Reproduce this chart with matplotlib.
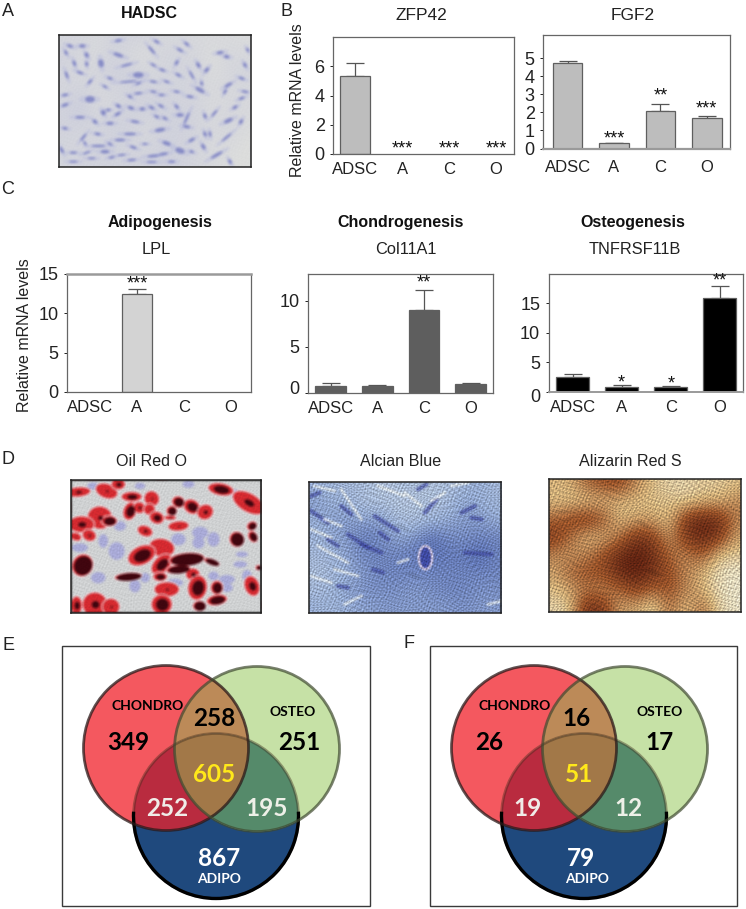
import numpy as np
import matplotlib
matplotlib.use('Agg')
import matplotlib.pyplot as plt
from matplotlib.patches import Circle, Ellipse, Arc, Polygon
from matplotlib.transforms import ScaledTranslation

W, H = 746, 909
plt.rcParams['font.family'] = ['Liberation Sans', 'DejaVu Sans']

groups = ['ADSC', 'A', 'C', 'O']

# bar values
zfp42 = [5.3, 0, 0, 0]
zfp42_err = [0.95, 0, 0, 0]
fgf2 = [4.75, 0.28, 2.07, 1.7]
fgf2_err = [0.12, 0.02, 0.38, 0.12]
lpl = [0, 12.5, 0, 0]
lpl_err = [0, 0.55, 0, 0]
col11a1 = [0.76, 0.76, 9.0, 0.95]
col11a1_err = [0.36, 0.07, 2.2, 0.08]
tnfrsf = [2.5, 0.85, 0.9, 15.8]
tnfrsf_err = [0.5, 0.28, 0.1, 2.0]

# venn counts
venn_e = ['349', '258', '251', '605', '252', '195', '867']
venn_f = ['26', '16', '17', '51', '19', '12', '79']

fig = plt.figure(figsize=(W / 100, H / 100), dpi=100)


def px_axes(x0, y0, x1, y1):
    return fig.add_axes([x0 / W, 1 - y1 / H, (x1 - x0) / W, (y1 - y0) / H])


def bar_panel(rect, xlim, ymax, vals, errs, color, yticks, stars, star_y, pad, bar_w=0.64):
    ax = px_axes(*rect)
    x = np.arange(4)
    for xi, v, e in zip(x, vals, errs):
        if v > 0:
            ax.bar(xi, v, bar_w, color=color, edgecolor='#5f5f5f', linewidth=0.9, zorder=2)
        if e > 0:
            ax.errorbar(xi, v, yerr=[[0], [e]], color='#555555', capsize=6.5, elinewidth=0.9,
                        capthick=0.9, zorder=1)
    for xi, s, y in zip(x, stars, star_y):
        if s:
            ax.text(xi, y, s, ha='center', va='center', fontsize=13, color='#111111')
    ax.set_xlim(*xlim)
    ax.set_ylim(0, ymax)
    ax.set_xticks(x, groups)
    ax.set_yticks(yticks)
    ax.tick_params(axis='x', length=0, pad=pad, labelsize=12, colors='#222222')
    ax.tick_params(axis='y', length=2, pad=4, labelsize=13, colors='#222222', width=0.7)
    for s in ax.spines.values():
        s.set_color('#666666')
        s.set_linewidth(0.9)
    ax.patch.set_alpha(0)
    return ax


def nudge_zero(ax, dy):
    lab = ax.get_yticklabels()[0]
    lab.set_transform(lab.get_transform() + ScaledTranslation(0, dy / 100, fig.dpi_scale_trans))


ax = bar_panel((333, 37, 514, 154), (-0.47, 3.38), 8.0, zfp42, zfp42_err, '#bdbdbd',
               [0, 2, 4, 6], ['', '***', '***', '***'], [0, 0.35, 0.35, 0.35], 6)
ax = bar_panel((543, 35, 730, 148.5), (-0.53, 3.5), 6.3, fgf2, fgf2_err, '#bdbdbd',
               [0, 1, 2, 3, 4, 5], ['', '***', '**', '***'], [0, 0.55, 2.9, 2.2], 8)
ax.spines['bottom'].set_color('#9a9a9a')
ax.spines['bottom'].set_linewidth(1.6)
ax = bar_panel((67, 274, 251, 392), (-0.49, 3.43), 15, lpl, lpl_err, '#d3d3d3',
               [0, 5, 10, 15], ['', '***', '', ''], [0, 13.7, 0, 0], 6)
ax.spines['top'].set_color('#9a9a9a')
ax.spines['top'].set_linewidth(1.8)
ax = bar_panel((308, 274, 493, 393), (-0.49, 3.48), 12.9, col11a1, col11a1_err, '#5e5e5e',
               [0, 5, 10], ['', '', '**', ''], [0, 0, 11.9, 0], 6, bar_w=0.66)
nudge_zero(ax, 6)
ax = bar_panel((548.5, 274, 743, 392), (-0.49, 3.47), 19.9, tnfrsf, tnfrsf_err, '#000000',
               [0, 5, 10, 15], ['', '*', '*', '**'], [0, 1.5, 1.4, 18.8], 6, bar_w=0.67)
ax.spines['bottom'].set_color('#9a9a9a')
ax.spines['bottom'].set_linewidth(1.4)
nudge_zero(ax, -4)


# photos are painted on a scratch figure, softened, then shown in the real axes
def photo(rect, crop_x, crop_y):
    tmp = plt.figure(figsize=((rect[2] - rect[0]) / 100, (rect[3] - rect[1]) / 100), dpi=200)
    ax = tmp.add_axes([0, 0, 1, 1])
    ax.set_xlim((rect[0] - crop_x) * 3, (rect[2] - crop_x) * 3)
    ax.set_ylim((rect[3] - crop_y) * 3, (rect[1] - crop_y) * 3)
    ax.axis('off')
    ax.rect = rect
    return ax


def speckle(shape):
    yy, xx = np.mgrid[0:shape[0], 0:shape[1]]
    warp = 4 * np.sin(.037 * xx + .061 * yy) + 3 * np.sin(-.053 * xx + .029 * yy) + 2.5 * np.sin(.091 * xx - .083 * yy)
    warp2 = 4 * np.sin(.043 * xx - .071 * yy + 1) + 3 * np.sin(.067 * xx + .047 * yy + 2)
    waves = [(.97, .31, .4, warp), (-.47, .88, 1.3, warp2), (.27, -1.07, 2.2, warp + warp2), (1.21, .67, 3.1, warp2 - warp),
             (-.83, -.51, 4.7, warp), (.39, 1.29, 5.3, warp2)]
    g = sum(np.sin(a * xx + b * yy + p + w) for a, b, p, w in waves)
    return g / 3.0


def finish(ax, k, strength):
    tmp = ax.figure
    tmp.canvas.draw()
    a = np.asarray(tmp.canvas.buffer_rgba())[:, :, :3].astype(float) / 255
    blur = sum(np.roll(np.roll(a, i, 0), j, 1) for i in range(-k, k + 1) for j in range(-k, k + 1)) / (2 * k + 1) ** 2
    if strength:
        blur = blur * (1 + strength * speckle(a.shape[:2]))[:, :, None]
    blur = np.clip(blur, 0, 1)
    plt.close(tmp)
    real = px_axes(*ax.rect)
    real.imshow(blur, aspect='auto', interpolation='antialiased')
    real.set_xticks([])
    real.set_yticks([])
    for s in real.spines.values():
        s.set_color('#222222')
        s.set_linewidth(1.1)


def shade(ax, grid, colors):
    x0, x1 = ax.get_xlim()
    y1, y0 = ax.get_ylim()
    cm = matplotlib.colors.LinearSegmentedColormap.from_list('s', colors)
    ax.imshow(np.array(grid), extent=(0, 600, 420, 0), cmap=cm, vmin=0, vmax=1,
              interpolation='bicubic', aspect='auto', zorder=0)
    ax.set_xlim(x0, x1)
    ax.set_ylim(y1, y0)


# A: cells as (x, y, length, width, angle) in crop units
hadsc_cells = [
    (45, 48, 16, 8, 20), (82, 48, 16, 9, 0), (33, 68, 14, 7, 60), (95, 75, 14, 10, 60), (58, 100, 16, 8, 70),
    (95, 102, 12, 8, 80), (35, 135, 20, 7, 70), (75, 128, 18, 7, 20), (138, 100, 20, 14, 80), (190, 75, 26, 9, 20),
    (190, 32, 18, 7, -10), (215, 105, 30, 6, -15), (250, 135, 26, 14, 0), (220, 155, 44, 5, -5), (105, 155, 16, 7, -50),
    (165, 145, 14, 7, 20), (150, 170, 14, 6, 30), (250, 160, 16, 6, -20), (295, 155, 18, 6, 10), (335, 155, 16, 6, 20),
    (370, 135, 16, 7, 30), (295, 105, 16, 6, 30), (322, 120, 16, 7, 20), (365, 98, 14, 8, -60), (375, 60, 18, 7, 30),
    (395, 42, 16, 7, 40), (290, 60, 26, 7, 50), (305, 35, 16, 7, 30), (430, 105, 16, 9, 60), (410, 135, 24, 6, 60),
    (455, 120, 16, 9, -50), (495, 68, 18, 8, -10), (515, 80, 14, 9, 10), (520, 165, 22, 8, -30), (510, 185, 14, 7, -60),
    (560, 145, 16, 7, 20), (570, 105, 14, 8, 60), (578, 60, 12, 7, 60), (570, 185, 18, 6, 10), (560, 205, 16, 7, -20),
    (435, 180, 26, 10, 30), (440, 160, 12, 7, 80), (405, 200, 18, 7, 10), (365, 185, 16, 6, 10), (320, 195, 16, 6, 0),
    (295, 185, 16, 6, 10), (250, 190, 20, 6, -5), (225, 200, 14, 7, 30), (105, 208, 24, 16, 0), (30, 195, 16, 7, -10),
    (30, 225, 18, 8, -20), (190, 228, 14, 9, 30), (228, 234, 16, 9, 20), (262, 237, 14, 9, 0), (290, 233, 16, 8, 30),
    (318, 228, 16, 7, 30), (365, 230, 14, 8, 50), (145, 248, 14, 12, 60), (188, 252, 18, 8, -30), (160, 240, 12, 7, 0),
    (375, 255, 18, 9, 0), (305, 260, 14, 7, 30), (330, 265, 14, 7, 30), (395, 265, 34, 6, -65), (450, 258, 14, 8, 70),
    (478, 250, 22, 6, -50), (540, 232, 14, 8, -30), (520, 272, 24, 10, -25), (558, 275, 14, 9, -60), (75, 262, 24, 7, 0),
    (120, 275, 14, 9, 40), (165, 280, 18, 8, 0), (240, 275, 22, 7, 10), (315, 300, 26, 10, -10), (395, 290, 18, 8, 10),
    (30, 295, 14, 7, 10), (85, 322, 24, 6, -50), (128, 312, 16, 7, 10), (225, 312, 30, 7, 0), (195, 330, 26, 7, 0),
    (130, 348, 36, 6, 0), (90, 340, 12, 6, 60), (165, 342, 14, 6, 30), (235, 352, 18, 7, 20), (335, 340, 22, 10, 20),
    (410, 330, 18, 8, -30), (450, 312, 14, 8, 70), (465, 312, 14, 7, 80), (445, 350, 16, 9, 60), (515, 322, 32, 6, -40),
    (20, 360, 18, 8, 60), (55, 368, 18, 6, 0), (95, 368, 20, 5, -20), (150, 365, 22, 9, 0), (200, 375, 20, 5, -5),
    (270, 342, 14, 5, 0), (375, 362, 24, 14, 20), (325, 372, 24, 7, -10), (410, 365, 12, 7, 20), (295, 378, 30, 7, -5),
    (230, 390, 22, 6, -5), (110, 385, 20, 5, 0), (170, 382, 16, 6, -10), (55, 395, 22, 5, 0), (290, 396, 26, 5, 0),
    (485, 375, 34, 8, -30), (525, 395, 14, 8, 60), (350, 395, 18, 6, 0),
]
hadsc_bg = [[.35, .45, .25, .45, .5, .45, .3, .35, .3, .25, .25, .2],
            [.55, .35, .25, .6, .25, .15, .5, .4, .4, .15, .4, .3],
            [.45, .3, .45, .55, .6, .4, .35, .5, .45, .15, .4, .45],
            [.35, .55, .3, .4, .5, .5, .5, .45, .4, .3, .35, .3],
            [.5, .8, .3, .4, .5, .55, .55, .5, .5, .2, .35, .3],
            [.5, .5, .45, .6, .55, .3, .5, .55, .45, .3, .45, .2],
            [.45, .4, .4, .5, .45, .4, .55, .5, .45, .25, .3, .1],
            [.45, .5, .5, .5, .5, .5, .55, .55, .4, .3, .15, .1]]
ax = photo((59, 35, 251, 167), 55, 30)
shade(ax, hadsc_bg, ['#e0e1dd', '#c3c5dc'])
for cx, cy, a, b, t in hadsc_cells:
    ax.add_patch(Ellipse((cx, cy), a * 2.4 + 8, b + 8, angle=t, fc='#bcbfdc', ec='none', alpha=0.5, zorder=1))
    ax.add_patch(Ellipse((cx, cy), a * 1.2, b * 1.2, angle=t, fc='#7f84c4', ec='none', alpha=0.85, zorder=2))
finish(ax, 3, 0.01)

# D, oil red: cells as (x, y, w, h, angle, dark centre size)
oil_cells = [
    (35, 48, 60, 24, -5, .2), (120, 45, 55, 35, 20, .1), (155, 25, 34, 26, 0, .3), (195, 62, 50, 24, 0, .4), (255, 68, 36, 38, -30, .1),
    (462, 40, 62, 30, 10, .5), (545, 80, 45, 85, -60, .25), (335, 78, 32, 28, 20, .6), (375, 92, 42, 34, 30, .5), (415, 108, 40, 36, -30, .2),
    (190, 105, 32, 45, 20, .5), (218, 95, 30, 28, 20, .2), (248, 100, 28, 28, 30, .1), (270, 125, 36, 30, 20, .4), (315, 105, 26, 26, 0, .6),
    (310, 125, 30, 12, 0, .2), (100, 125, 60, 55, 10, .15), (45, 145, 62, 40, 0, .25), (128, 135, 38, 26, 0, .6), (68, 178, 34, 28, 20, .15),
    (28, 182, 28, 20, 20, .1), (335, 150, 50, 24, -5, .1), (235, 165, 38, 26, 20, .2), (510, 190, 36, 38, -30, .7), (555, 150, 22, 26, 60, .6),
    (558, 182, 22, 30, -30, .6), (285, 215, 62, 44, 10, 0), (225, 238, 45, 70, 65, .5), (48, 268, 50, 55, 30, .7), (285, 265, 38, 60, 45, .45),
    (360, 250, 86, 32, -5, .75), (335, 280, 60, 22, -5, .7), (435, 258, 40, 16, 20, .7), (280, 302, 34, 22, 0, .5), (185, 302, 66, 20, -5, .75),
    (378, 295, 34, 30, 0, .25), (392, 335, 46, 60, 10, .5), (300, 340, 60, 36, 0, .1), (450, 335, 30, 34, 0, .6), (450, 372, 50, 26, -10, .6),
    (555, 330, 36, 50, -20, .35), (85, 385, 60, 58, 0, .25), (133, 392, 42, 40, 0, .1), (30, 388, 28, 44, 0, .35), (285, 385, 50, 48, 0, .5),
    (398, 390, 32, 26, 0, .7), (575, 275, 16, 14, 0, .6),
]
oil_blue = [(95, 305, 36, 28), (205, 330, 28, 32), (235, 305, 24, 24), (335, 190, 36, 30), (440, 190, 30, 36), (150, 225, 40, 44),
            (395, 200, 30, 30), (525, 235, 30, 14), (520, 265, 34, 16), (440, 300, 26, 22), (480, 335, 30, 22), (325, 320, 40, 20),
            (110, 195, 24, 34), (365, 25, 30, 18), (80, 30, 30, 18), (220, 30, 26, 16), (40, 215, 40, 22), (500, 50, 26, 18),
            (400, 170, 40, 30), (160, 150, 30, 24), (480, 310, 40, 22), (540, 300, 24, 30)]
ax = photo((70.5, 480, 261, 613), 66, 476)
ax.set_facecolor('#cfd1d2')
ax.axis('on')
ax.set_xticks([])
ax.set_yticks([])
for cx, cy, a, b in oil_blue:
    ax.add_patch(Ellipse((cx, cy), a * 1.2, b * 1.2, fc='#a3a4d8', ec='none', alpha=0.85, zorder=1))
for cx, cy, a, b, t, d in oil_cells:
    ax.add_patch(Ellipse((cx, cy), a * 1.25, b * 1.25, angle=t, fc='#d42a30', ec='#f0d8dc', linewidth=0.8, zorder=2))
    if d:
        ax.add_patch(Ellipse((cx + 2, cy + 1), a * d * 1.5, b * d * 1.5, angle=t, fc='#40060f', ec='none', zorder=2.5))
finish(ax, 3, 0.05)

# D, alcian blue
alcian = [[.5, .45, .4, .4, .3, .35, .4, .3, .35, .45, .5, .4],
          [.6, .5, .5, .35, .35, .3, .3, .35, .4, .55, .5, .45],
          [.5, .55, .6, .55, .6, .4, .35, .45, .5, .6, .6, .5],
          [.45, .5, .6, .75, .7, .55, .6, .8, .7, .65, .7, .7],
          [.4, .45, .55, .7, .7, .7, .75, .8, .75, .75, .85, .7],
          [.35, .4, .5, .6, .7, .7, .7, .7, .7, .7, .7, .7],
          [.4, .45, .55, .65, .65, .65, .6, .65, .7, .7, .65, .65],
          [.5, .45, .5, .55, .6, .6, .6, .6, .6, .65, .6, .6]]
alcian_dark = [(20, 105, 70, 140), (70, 190, 100, 210), (110, 90, 140, 115), (210, 120, 280, 165), (170, 205, 230, 230),
               (340, 40, 365, 25), (360, 110, 395, 70), (470, 110, 510, 90), (480, 230, 560, 235), (20, 60, 45, 50),
               (130, 175, 190, 215), (225, 170, 250, 190), (205, 280, 235, 290), (500, 125, 530, 130), (100, 330, 130, 335)]
alcian_pale = [(20, 160, 80, 185), (40, 210, 130, 260), (110, 40, 170, 130), (220, 30, 300, 60), (60, 130, 110, 150),
               (380, 75, 420, 50), (120, 385, 170, 360), (20, 300, 80, 320), (90, 280, 160, 300), (550, 385, 590, 375),
               (280, 260, 310, 250), (300, 50, 350, 90), (440, 30, 490, 20), (30, 30, 90, 45)]
ax = photo((308.5, 482, 501, 613), 304, 476)
shade(ax, alcian, ['#d5dee0', '#93a8ce', '#34499b'])
for x0, y0, x1, y1 in alcian_dark:
    ax.plot([x0, x1], [y0, y1], color='#3b4396', lw=3, alpha=0.65, zorder=1, solid_capstyle='round')
for x0, y0, x1, y1 in alcian_pale:
    ax.plot([x0, x1], [y0, y1], color='#e3e8ea', lw=2, alpha=0.75, zorder=1)
ax.add_patch(Ellipse((362, 245), 40, 70, fc='#3f4aa0', ec='#d5c9de', linewidth=1.5, zorder=2))
finish(ax, 2, 0.22)

# D, alizarin red
alizarin = [[.35, .35, .6, .7, .75, .5, .3, .2, .2, .25, .25, .3],
            [.3, .3, .3, .35, .35, .3, .3, .3, .25, .35, .35, .5],
            [.6, .75, .85, .7, .3, .4, .4, .3, .85, .95, .9, .5],
            [.85, .6, .35, .35, .55, .85, .8, .4, .85, .95, .85, .4],
            [.5, .45, .5, .7, .9, 1, .9, .6, .5, .7, .3, .25],
            [.4, .6, .7, .7, .95, 1, .9, .7, .5, .35, .15, .1],
            [.3, .4, .55, .5, .6, .8, .6, .7, .5, .35, .15, .1],
            [.2, .25, .9, .85, .4, .4, .2, .6, .3, .6, .2, .1]]
ax = photo((548.5, 479, 740.5, 612), 544, 476)
shade(ax, alizarin, ['#e9ebdc', '#cfae78', '#98532a', '#5b1f10'])
finish(ax, 1, 0.26)


# panels E and F
regions = {'r': '#f4585f', 'g': '#c6e1a6', 'b': '#1f497d', 'rg': '#bc8a58', 'rb': '#b92b3f', 'gb': '#558a6a', 'rgb': '#a27848'}
top = fig.add_axes([0, 0, 1, 1], zorder=5)
top.set_xlim(0, W)
top.set_ylim(H, 0)
top.axis('off')


def inside(pts, c, r):
    return np.hypot(pts[:, 0] - c[0], pts[:, 1] - c[1]) <= r


def venn(box, cr, cg, cb, labels, pos, name_pos):
    r = 82.5
    top.add_patch(Polygon([(box[0], box[1]), (box[2], box[1]), (box[2], box[3]), (box[0], box[3])],
                          closed=True, fc='white', ec='#3a3a3a', lw=1))
    for c, k in ((cb, 'b'), (cg, 'g'), (cr, 'r')):
        top.add_patch(Circle(c, r, fc=regions[k], ec='none'))
    for c1, c2, k in ((cr, cg, 'rg'), (cr, cb, 'rb'), (cg, cb, 'gb')):
        p = Circle(c1, r, fc=regions[k], ec='none')
        top.add_patch(p)
        p.set_clip_path(Circle(c2, r, transform=top.transData))
    # triple overlap outline: boundary points of each circle lying in the other two
    t = np.linspace(0, 2 * np.pi, 721)
    pts = []
    for a, b, c in ((cr, cg, cb), (cg, cb, cr), (cb, cr, cg)):
        q = np.c_[a[0] + r * np.cos(t), a[1] + r * np.sin(t)]
        pts.append(q[inside(q, b, r + 0.01) & inside(q, c, r + 0.01)])
    pts = np.vstack(pts)
    m = pts.mean(axis=0)
    pts = pts[np.argsort(np.arctan2(pts[:, 1] - m[1], pts[:, 0] - m[0]))]
    top.add_patch(Polygon(pts, closed=True, fc=regions['rgb'], ec='none'))
    # outlines
    top.add_patch(Circle(cb, r, fc='none', ec='#3a2a1a', lw=2, alpha=0.4))
    top.add_patch(Arc(cb, 2 * r, 2 * r, theta1=-3, theta2=183, color='black', lw=2.4))
    top.add_patch(Circle(cr, r, fc='none', ec='#2a1a1a', lw=2, alpha=0.75))
    top.add_patch(Circle(cg, r, fc='none', ec='#3f4a30', lw=2, alpha=0.7))
    fonts = ['Lato', 'DejaVu Sans']
    colors = ['black', 'black', 'black', '#ffe81a', '#f0ece8', '#eef0e8', 'white']
    for s, (x, y), col in zip(labels, pos, colors):
        top.text(x, y, s, ha='center', va='center', fontsize=17.5, fontweight='bold', color=col, family=fonts)
    for s, (x, y), col in zip(['CHONDRO', 'OSTEO', 'ADIPO'], name_pos, ['black', 'black', 'white']):
        top.text(x, y, s, ha='center', va='center', fontsize=10, fontweight='bold', color=col, family=fonts)


venn((62, 646, 370, 906), (166, 748), (257, 749), (216, 816), venn_e,
     [(128, 742), (214, 719), (299, 743), (214, 774), (167, 809), (267, 809), (219, 859)],
     [(148, 706), (293, 712), (219, 879)])
venn((430, 646, 737, 906), (534, 748), (625, 749), (584, 816), venn_f,
     [(489, 743), (576, 719), (660, 743), (579, 774), (528, 809), (628, 809), (581, 859)],
     [(515, 706), (660, 712), (587, 879)])

# text placed by pixel
for s, x, y in [('A', 8, 11), ('B', 286, 11), ('C', 8, 190), ('D', 8, 460), ('E', 8, 645), ('F', 409, 644)]:
    top.text(x, y, s, ha='center', va='center', fontsize=13, color='#222222')
for s, x, y in [('HADSC', 149, 13), ('Adipogenesis', 160, 223), ('Chondrogenesis', 401, 223), ('Osteogenesis', 633, 223)]:
    top.text(x, y, s, ha='center', va='center', fontsize=11.5, fontweight='bold', color='#111111')
for s, x, y, fs in [('ZFP42', 421, 16, 12.5), ('FGF2', 633, 16, 12.5), ('LPL', 156, 249, 11.8), ('Col11A1', 406, 249, 11.8),
                    ('TNFRSF11B', 635, 249, 11.8), ('Oil Red O', 152, 462, 11.6), ('Alcian Blue', 401, 462, 11.6),
                    ('Alizarin Red S', 630, 462, 11.6)]:
    top.text(x, y, s, ha='center', va='center', fontsize=fs, color='#222222')
top.text(298, 100, 'Relative mRNA levels', rotation=90, ha='center', va='center', fontsize=11.5, color='#222222')
top.text(25, 335, 'Relative mRNA levels', rotation=90, ha='center', va='center', fontsize=11.5, color='#222222')

fig.savefig('out.png', dpi=100)
